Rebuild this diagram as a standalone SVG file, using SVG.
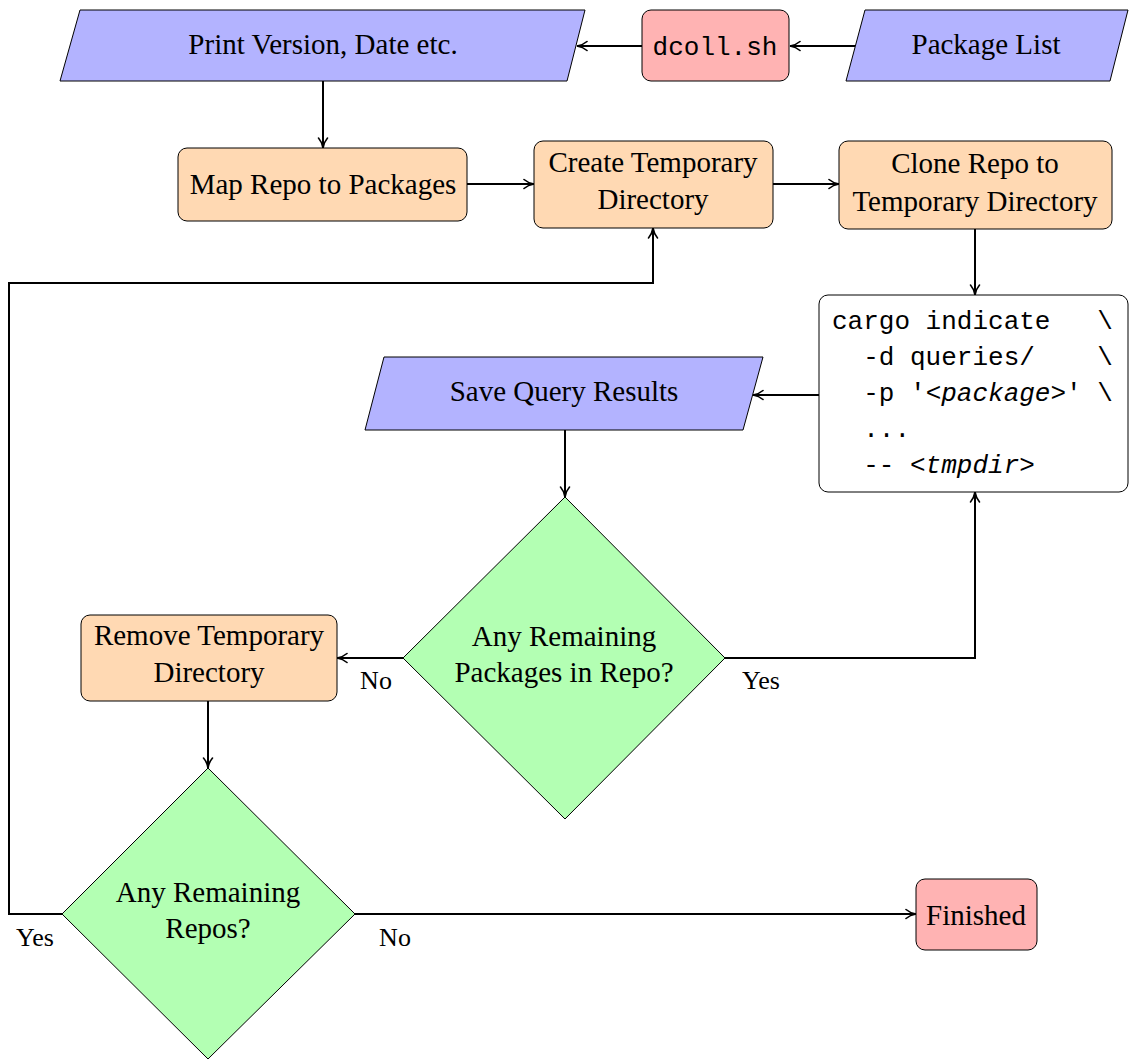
<svg xmlns="http://www.w3.org/2000/svg" width="1129" height="1059" viewBox="0 0 1129 1059">
<defs>
<marker id="arr" viewBox="0 0 12 12" refX="11" refY="6" markerWidth="12" markerHeight="12" markerUnits="userSpaceOnUse" orient="auto">
<path d="M1,1.5 Q5,5 11,6 Q5,7 1,10.5" fill="none" stroke="#000" stroke-width="1.6" stroke-linecap="round"/>
</marker>
<style>
.io{fill:#b3b3ff;stroke:#000;stroke-width:1}
.proc{fill:#ffd9b3;stroke:#000;stroke-width:1}
.term{fill:#ffb3b3;stroke:#000;stroke-width:1}
.dec{fill:#b3ffb3;stroke:#000;stroke-width:1}
.code{fill:#fff;stroke:#000;stroke-width:1}
.t{font-family:"Liberation Serif",serif;font-size:29px;fill:#000;text-anchor:middle}
.lbl{font-family:"Liberation Serif",serif;font-size:26px;fill:#000;text-anchor:middle}
.m{font-family:"Liberation Mono",monospace;font-size:26px;fill:#000;white-space:pre}
.c{fill:none;stroke:#000;stroke-width:2;marker-end:url(#arr)}
</style>
</defs>
<rect width="1129" height="1059" fill="#fff"/>
<g id="connectors">
<path class="c" d="M642,46 H577"/>
<path class="c" d="M855,46 H790"/>
<path class="c" d="M323,81 V148"/>
<path class="c" d="M467,184 H534"/>
<path class="c" d="M773,184 H839"/>
<path class="c" d="M975,229 V295"/>
<path class="c" d="M819,395 H753"/>
<path class="c" d="M565,430 V497"/>
<path class="c" d="M725,658 H975 V492"/>
<path class="c" d="M403,658 H337"/>
<path class="c" d="M208,701 V768"/>
<path class="c" d="M62,914 H9 V283 H653 V228"/>
<path class="c" d="M355,914 H916"/>
<text class="lbl" x="761" y="689">Yes</text>
<text class="lbl" x="376" y="689">No</text>
<text class="lbl" x="35" y="946">Yes</text>
<text class="lbl" x="395" y="946">No</text>
</g>
<g id="print">
<polygon class="io" points="80,10 585,10 567,81 60,81"/>
<text class="t" x="323" y="54">Print Version, Date etc.</text>
</g>
<g id="dcoll">
<rect class="term" x="642" y="10" width="147" height="71" rx="9"/>
<text class="m" x="715" y="55" text-anchor="middle">dcoll.sh</text>
</g>
<g id="pkglist">
<polygon class="io" points="865,10 1128,10 1110,81 846,81"/>
<text class="t" x="986" y="54">Package List</text>
</g>
<g id="map">
<rect class="proc" x="178" y="148" width="289" height="73" rx="9"/>
<text class="t" x="323" y="194">Map Repo to Packages</text>
</g>
<g id="create">
<rect class="proc" x="534" y="141" width="239" height="87" rx="9"/>
<text class="t" x="653" y="172">Create Temporary</text>
<text class="t" x="653" y="209">Directory</text>
</g>
<g id="clone">
<rect class="proc" x="839" y="141" width="273" height="88" rx="9"/>
<text class="t" x="975" y="173">Clone Repo to</text>
<text class="t" x="975" y="211">Temporary Directory</text>
</g>
<g id="cargo">
<rect class="code" x="819" y="295" width="309" height="197" rx="9"/>
<text class="m" x="832" y="329">cargo indicate   \</text>
<text class="m" x="832" y="365">  -d queries/    \</text>
<text class="m" x="832" y="401">  -p '<tspan font-style="italic">&lt;package&gt;</tspan>' \</text>
<text class="m" x="832" y="437">  ...</text>
<text class="m" x="832" y="473">  -- <tspan font-style="italic">&lt;tmpdir&gt;</tspan></text>
</g>
<g id="save">
<polygon class="io" points="384,357 763,357 743,430 365,430"/>
<text class="t" x="564" y="401">Save Query Results</text>
</g>
<g id="anypkgs">
<polygon class="dec" points="565,497 725,658 565,819 403,658"/>
<text class="t" x="564" y="646">Any Remaining</text>
<text class="t" x="564" y="682">Packages in Repo?</text>
</g>
<g id="remove">
<rect class="proc" x="81" y="615" width="256" height="86" rx="9"/>
<text class="t" x="209" y="645">Remove Temporary</text>
<text class="t" x="209" y="682">Directory</text>
</g>
<g id="anyrepos">
<polygon class="dec" points="208,768 355,914 208,1059 62,914"/>
<text class="t" x="208" y="902">Any Remaining</text>
<text class="t" x="208" y="938">Repos?</text>
</g>
<g id="finished">
<rect class="term" x="916" y="879" width="121" height="71" rx="9"/>
<text class="t" x="976" y="925">Finished</text>
</g>
</svg>
